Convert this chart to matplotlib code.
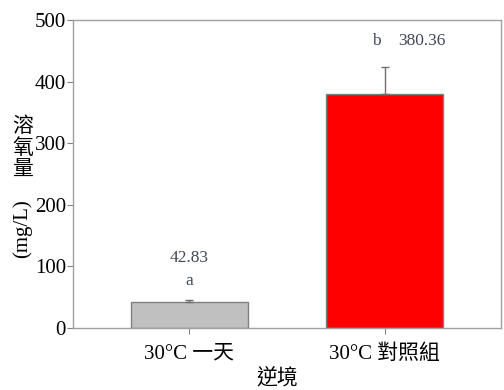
import matplotlib.pyplot as plt

plt.rcParams['font.family'] = ['Liberation Serif', 'Noto Sans CJK TC']

# 資料
categories = ['30°C 一天', '30°C 對照組']
values = [42.83, 380.36]
errors = [2, 44]
letters = ['a', 'b']
colors = ['#c0c0c0', '#ff0000']

fig = plt.figure(figsize=(5.04, 3.9), dpi=100)
ax = fig.add_axes([0.1448, 0.159, 0.8492, 0.7897])

x = list(range(len(categories)))
ax.bar(x, values, width=0.6, color=colors, edgecolor='#808080', linewidth=1.0, zorder=2)
ax.errorbar(x, values, yerr=[[0, 0], errors], fmt='none', ecolor='#707070',
            elinewidth=1.0, capsize=3, capthick=1.0, zorder=3)

ax.set_xlim(-0.597, 1.597)
ax.set_ylim(0, 500)
ax.set_yticks(range(0, 501, 100))
ax.set_xticks(x)
ax.set_xticklabels(categories, fontsize=15)
ax.tick_params(axis='y', labelsize=15, length=4, color='#808080', pad=1)
ax.tick_params(axis='x', length=4, color='#808080', pad=8)
for s in ax.spines.values():
    s.set_color('#a0a0a0')
    s.set_linewidth(1.0)

# 標註
ann = '#404858'
ax.text(0, values[0] + errors[0] + 55, f'{values[0]:.2f}', ha='center', va='bottom',
        fontsize=12.5, color=ann)
ax.text(0, values[0] + errors[0] + 18, letters[0], ha='center', va='bottom',
        fontsize=12.5, color=ann)
ax.text(-0.02 + 1, values[1] + errors[1] + 28, letters[1], ha='right', va='bottom',
        fontsize=12.5, color=ann)
ax.text(1.07, values[1] + errors[1] + 28, f'{values[1]:.2f}', ha='left', va='bottom',
        fontsize=12.5, color=ann)

# 軸標題
fig.text(0.045, 0.62, '溶\n氧\n量', ha='center', va='center', fontsize=15,
         linespacing=1.0, family=['Noto Sans CJK TC'])
fig.text(0.045, 0.415, '(mg/L)', ha='center', va='center', rotation=90, fontsize=15)
fig.text(0.55, 0.03, '逆境', ha='center', va='center', fontsize=15,
         family=['Noto Sans CJK TC'])

fig.savefig('out.png', dpi=100)
